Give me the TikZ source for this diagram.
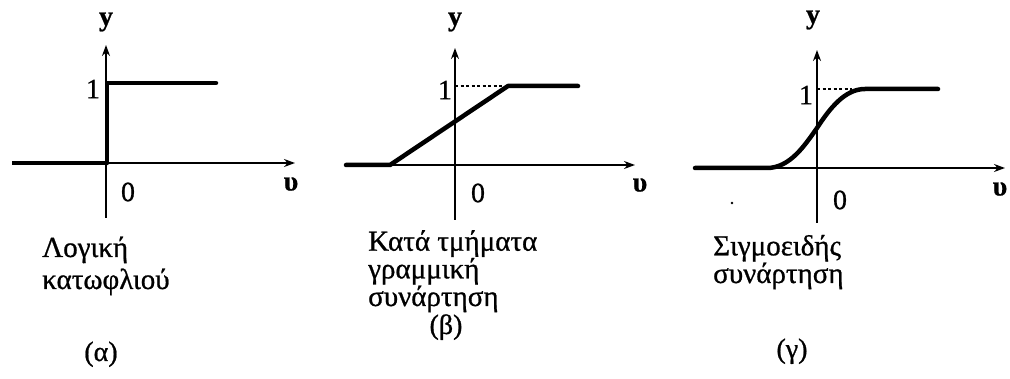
\documentclass[tikz,border=0pt]{standalone}
\usepackage{fontspec}
\setmainfont{Liberation Serif}[FakeBold=0.8]
\usetikzlibrary{arrows.meta}
\begin{document}
\begin{tikzpicture}[x=1pt,y=-1pt,
  axis/.style={line width=1.8pt,-{Stealth[length=11pt,width=8pt]}},
  curve/.style={line width=4.5pt,line cap=round,line join=round},
  guide/.style={line width=1.2pt,dash pattern=on 3pt off 2.5pt},
  lbl/.style={font=\fontsize{28}{28}\selectfont,inner sep=0pt},
  captxt/.style={inner sep=0pt,anchor=base west,align=left}]
\useasboundingbox (0,0) rectangle (1010,379);
% ---------- (a)
\coordinate (aL) at (12,163);
\coordinate (aO) at (106,163);
\coordinate (aR) at (295,163);
\coordinate (aB) at (106,218);
\coordinate (aT) at (106,45);
\coordinate (aS) at (107,163);
\coordinate (aS1) at (107,83);
\coordinate (aE) at (216,83);
\draw[axis] (aB) -- (aT);
\draw[axis] (aO) -- (aR);
\draw[curve,line cap=butt] (aL) -- (aO);
\draw[curve] (aS) -- (aS1) -- (aE);
\node[lbl] (ay) at (106,22) {\bfseries y};
\node[lbl] (a1) at (93,89) {1};
\node[lbl] (a0) at (128,192) {0};
\node[lbl] (av) at (291,184) {\bfseries υ};
\node[captxt,font=\fontsize{29}{32}\selectfont] (at) at (42,289) {Λογική\\κατωφλιού};
\node[lbl,anchor=base] (an) at (101,361) {(α)};
% ---------- (b)
\coordinate (bL) at (346,165);
\coordinate (bK) at (390,165);
\coordinate (bO) at (455,165);
\coordinate (bR) at (635,165);
\coordinate (bB) at (455,220);
\coordinate (bT) at (455,48);
\coordinate (bY) at (455,86);
\coordinate (bP) at (508,86);
\coordinate (bE) at (578,86);
\draw[axis] (bB) -- (bT);
\draw[axis] (bL) -- (bR);
\draw[guide] (bY) -- (bP);
\draw[curve] (bL) -- (bK) -- (bP) -- (bE);
\node[lbl] (by) at (455,22) {\bfseries y};
\node[lbl] (b1) at (445,90) {1};
\node[lbl] (b0) at (478,193) {0};
\node[lbl] (bv) at (640,185) {\bfseries υ};
\node[captxt,font=\fontsize{29}{24.5}\selectfont] (bt) at (368,306) {Κατά τμήματα\\γραμμική\\συνάρτηση};
\node[lbl,anchor=base] (bn) at (446,334) {(β)};
% ---------- (c)
\coordinate (cL) at (695,168);
\coordinate (cK) at (767,168);
\coordinate (cO) at (817,168);
\coordinate (cM) at (817,128);
\coordinate (cR) at (1005,168);
\coordinate (cB) at (817,223);
\coordinate (cT) at (817,50);
\coordinate (cY) at (817,89);
\coordinate (cD) at (852,89);
\coordinate (cP) at (865,89);
\coordinate (cE) at (938,89);
\draw[axis] (cB) -- (cT);
\draw[axis] (cL) -- (cR);
\draw[guide] (cY) -- (cD);
\draw[curve] (cL) -- (cK) .. controls (790,168) and (805,145) .. (cM)
  .. controls (830,108) and (845,89) .. (cP) -- (cE);
\fill (732,203) circle (1.3);
\node[lbl] (cy) at (813,20) {\bfseries y};
\node[lbl] (c1) at (806,95) {1};
\node[lbl] (c0) at (840,200) {0};
\node[lbl] (cv) at (1000,189) {\bfseries υ};
\node[captxt,font=\fontsize{29}{25}\selectfont] (ct) at (713,283) {Σιγμοειδής\\συνάρτηση};
\node[lbl,anchor=base] (cn) at (792,358) {(γ)};
\end{tikzpicture}
\end{document}
